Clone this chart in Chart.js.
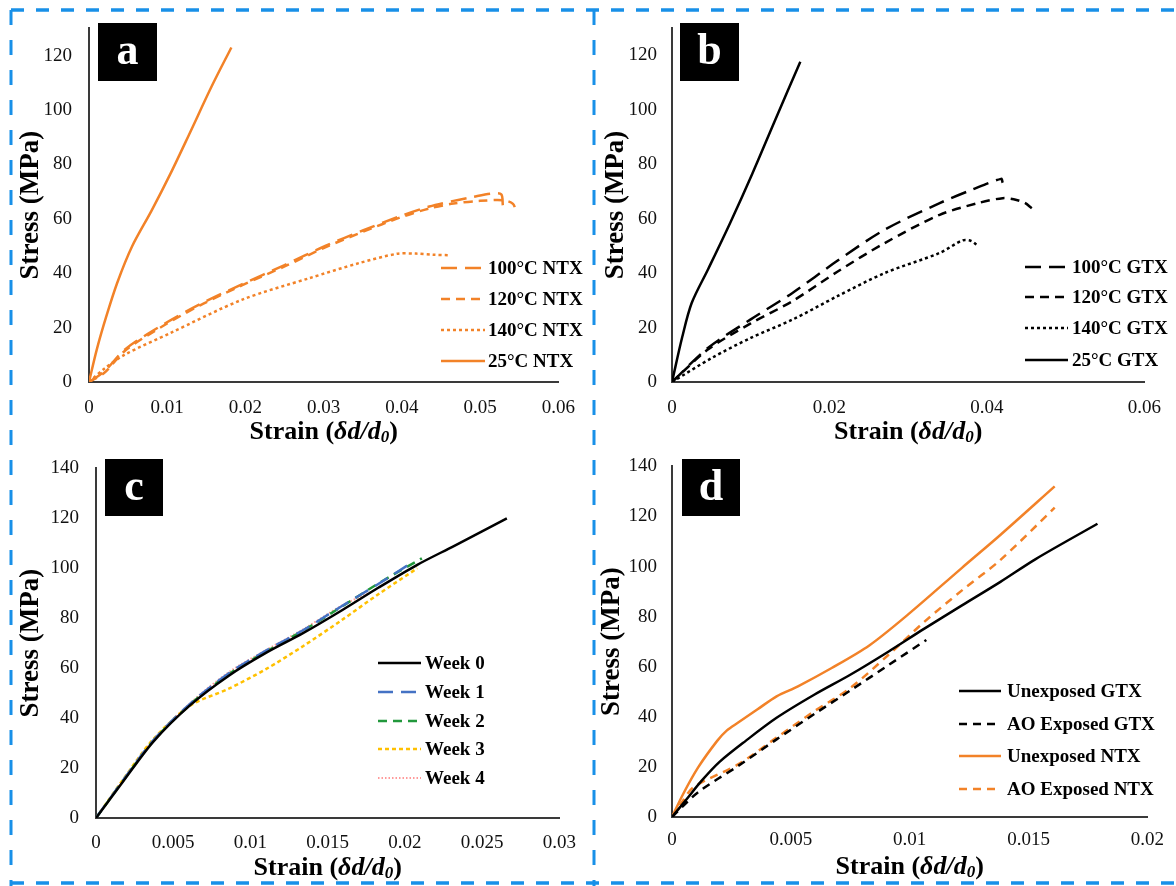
<!DOCTYPE html>
<html>
<head>
<meta charset="utf-8">
<title>Stress–strain curves</title>
<script src="https://cdn.jsdelivr.net/npm/chart.js@4.4.1/dist/chart.umd.min.js"></script>
<style>
  html, body { margin: 0; padding: 0; background: #fff; }
  #fig { position: relative; width: 1176px; height: 886px; overflow: hidden; }
  #fig canvas { position: absolute; }
</style>
</head>
<body>
<div id="fig">
  <canvas id="chartA" width="590" height="450" style="left:0;top:0"></canvas>
  <canvas id="chartB" width="586" height="450" style="left:590px;top:0"></canvas>
  <canvas id="chartC" width="590" height="446" style="left:0;top:440px"></canvas>
  <canvas id="chartD" width="586" height="446" style="left:590px;top:440px"></canvas>
  <canvas id="frame" width="1176" height="886" style="left:0;top:0"></canvas>
</div>
<script>
// ---- data: [strain, stress (MPa)] ----
// (a) NTX at different temperatures
const ntx100 = [[0,0],[0.002,4],[0.0046,12],[0.0094,21],[0.0142,28.6],[0.0196,36],[0.025,43],[0.0302,50],[0.035,55.7],[0.0398,61],[0.0435,64.5],[0.0466,66.6],[0.049,68],[0.0515,69.3],[0.0527,69],[0.0529,65]];
const ntx120 = [[0,0],[0.002,3.5],[0.0046,11.5],[0.0094,20.5],[0.0142,28.2],[0.0196,35.6],[0.025,42.5],[0.0302,49.5],[0.035,55.2],[0.0398,60.5],[0.0435,63.8],[0.0466,65.6],[0.05,66.6],[0.053,66.8],[0.0542,65.5],[0.0546,62.5]];
const ntx140 = [[0,0],[0.002,5],[0.0046,10.1],[0.0104,18],[0.0196,30.3],[0.0282,38.2],[0.0345,43.7],[0.0393,47.1],[0.0418,47.2],[0.044,46.8],[0.0461,46.6]];
const ntx25 = [[0,0],[0.001,12],[0.0022,24],[0.0036,36.4],[0.0055,49.8],[0.008,63],[0.0104,76.5],[0.0128,91],[0.0157,108.8],[0.0182,123]];

// (b) GTX at different temperatures
const gtx100 = [[0,0],[0.0046,12.6],[0.01,23],[0.0153,32.7],[0.021,44.5],[0.027,55.9],[0.034,65.7],[0.038,70.5],[0.0418,74.6],[0.042,73.2]];
const gtx120 = [[0,0],[0.0046,12],[0.01,21.5],[0.0153,29.7],[0.021,40.5],[0.027,51],[0.034,61.4],[0.039,65.8],[0.042,67.5],[0.0434,67.1],[0.0448,65.8],[0.0457,63.8]];
const gtx140 = [[0,0],[0.0051,8.9],[0.01,16.2],[0.0153,22.9],[0.021,31.5],[0.027,40],[0.034,47.4],[0.0369,52],[0.038,51.8],[0.0387,50.4]];
const gtx25 = [[0,0],[0.0013,16.5],[0.0025,29],[0.0046,41.5],[0.0074,58.5],[0.0102,76.5],[0.013,95.5],[0.0163,117.6]];

// (c) weekly exposure
const week0 = [[0,0],[0.0018,15],[0.0037,30.5],[0.0061,45.2],[0.0086,57],[0.011,66.1],[0.0134,74],[0.0159,83.1],[0.0183,92.3],[0.0208,101.4],[0.0232,109],[0.0266,120]];
const week1 = [[0,0],[0.0018,15.5],[0.0037,31],[0.0061,45.8],[0.0086,58],[0.011,67],[0.0134,75.2],[0.0159,84.8],[0.0183,93.8],[0.0205,102.5]];
const week2 = [[0,0],[0.0018,15.3],[0.0037,30.8],[0.0061,45.5],[0.0086,57.6],[0.011,66.6],[0.0134,75],[0.0159,84.6],[0.0183,94],[0.0211,104]];
const week3 = [[0,0],[0.0018,15.8],[0.0037,31.5],[0.0061,45],[0.0086,51.8],[0.011,59.6],[0.0134,68.8],[0.0159,79.2],[0.0183,89.7],[0.0208,100]];
const week4 = [[0,0],[0.0018,15.6],[0.0037,31.2],[0.0061,46],[0.0086,58.4],[0.011,67.2],[0.0134,75.5],[0.0159,85],[0.0178,90.5]];

// (d) unexposed vs AO exposed
const gtxUnexp = [[0,0],[0.00063,7.3],[0.00125,14.5],[0.002,22],[0.0031,30.4],[0.0044,39.6],[0.006,48.9],[0.0075,56.8],[0.0091,66],[0.0106,75.1],[0.0122,84.5],[0.0138,93.8],[0.0153,103],[0.0179,117.1]];
const gtxAO = [[0,0],[0.0011,9.9],[0.0028,20.5],[0.0044,31],[0.006,41.2],[0.0075,50.5],[0.0091,60.6],[0.0107,70.7]];
const ntxUnexp = [[0,0],[0.00047,9.2],[0.0011,19.8],[0.0019,30.4],[0.0023,34.5],[0.0028,37.8],[0.0036,43],[0.0044,48.2],[0.0053,52.2],[0.0067,59.4],[0.0083,68.5],[0.0099,80.6],[0.0122,99.5],[0.0138,112.5],[0.0161,132]];
const ntxAO = [[0,0],[0.00047,6.6],[0.0009,11.9],[0.0028,21.1],[0.0044,31.7],[0.006,42.3],[0.0075,51.5],[0.0091,64.7],[0.0106,77.8],[0.0122,90.5],[0.0138,102.5],[0.0161,123.5]];

// ---- ticks ----
const xTicksA = [0, 0.01, 0.02, 0.03, 0.04, 0.05, 0.06];
const xLabelsA = ['0', '0.01', '0.02', '0.03', '0.04', '0.05', '0.06'];
const xTicksB = [0, 0.02, 0.04, 0.06];
const xLabelsB = ['0', '0.02', '0.04', '0.06'];
const xTicksC = [0, 0.005, 0.01, 0.015, 0.02, 0.025, 0.03];
const xLabelsC = ['0', '0.005', '0.01', '0.015', '0.02', '0.025', '0.03'];
const xTicksD = [0, 0.005, 0.01, 0.015, 0.02];
const xLabelsD = ['0', '0.005', '0.01', '0.015', '0.02'];
const yTicks120 = [0, 20, 40, 60, 80, 100, 120];
const yTicks140 = [0, 20, 40, 60, 80, 100, 120, 140];

const ORANGE = '#f28228';
const SERIF = '"Liberation Serif", "Times New Roman", serif';

function line(label, pts, color, dash, width) {
    return {
        label: label,
        data: pts.map(p => ({ x: p[0], y: p[1] })),
        borderColor: color,
        borderDash: dash,
        borderWidth: width || 2.5,
        showLine: true,
        pointRadius: 0,
        fill: false,
        tension: 0.3
    };
}

// legend rows drawn inside the plot
const legendBox = {
    id: 'legendBox',
    afterDatasetsDraw(chart, args, o) {
        const ctx = chart.ctx;
        ctx.save();
        chart.data.datasets.forEach((ds, i) => {
            const y = o.rows[i];
            ctx.strokeStyle = ds.borderColor;
            ctx.lineWidth = ds.borderWidth;
            ctx.setLineDash(ds.borderDash || []);
            ctx.beginPath();
            ctx.moveTo(o.x1, y);
            ctx.lineTo(o.x2, y);
            ctx.stroke();
            ctx.setLineDash([]);
            ctx.fillStyle = '#000';
            ctx.font = 'bold 19px ' + SERIF;
            ctx.textAlign = 'left';
            ctx.textBaseline = 'middle';
            ctx.fillText(ds.label, o.tx, y + 1);
        });
        ctx.restore();
    }
};

// black box with the panel letter
const panelTag = {
    id: 'panelTag',
    afterDraw(chart, args, o) {
        const ctx = chart.ctx;
        ctx.save();
        ctx.fillStyle = '#000';
        ctx.fillRect(o.x, o.y, o.w, o.h);
        ctx.fillStyle = '#fff';
        ctx.font = 'bold 44px ' + SERIF;
        ctx.textAlign = 'center';
        ctx.textBaseline = 'middle';
        ctx.fillText(o.text, o.x + o.w / 2, o.y + o.h / 2 + 1);
        ctx.restore();
    }
};

// x axis title with italic symbols and subscript
const strainTitle = {
    id: 'strainTitle',
    afterDraw(chart, args, o) {
        const ctx = chart.ctx, a = chart.chartArea;
        const parts = [
            ['Strain (', 'bold 26px ' + SERIF, 0],
            ['\u03B4d/d', 'italic bold 26px ' + SERIF, 0],
            ['0', 'italic bold 17px ' + SERIF, 6],
            [')', 'bold 26px ' + SERIF, 0]
        ];
        ctx.save();
        ctx.textBaseline = 'middle';
        ctx.textAlign = 'left';
        let total = 0;
        parts.forEach(p => { ctx.font = p[1]; total += ctx.measureText(p[0]).width; });
        let x = (a.left + a.right) / 2 - total / 2;
        const y = a.bottom + o.offset;
        ctx.fillStyle = '#000';
        parts.forEach(p => {
            ctx.font = p[1];
            ctx.fillText(p[0], x, y + p[2]);
            x += ctx.measureText(p[0]).width;
        });
        ctx.restore();
    }
};

function makePanel(id, c) {
    const axisBorder = { display: true, color: '#3a3a3a', width: 2 };
    const tickFont = { family: SERIF, size: 19 };
    return new Chart(document.getElementById(id), {
        type: 'scatter',
        data: { datasets: c.series },
        options: {
            responsive: false,
            animation: false,
            layout: { padding: { left: 0, right: c.padRight, top: c.padTop, bottom: 0 } },
            plugins: {
                legend: { display: false },
                tooltip: { enabled: false },
                legendBox: c.legend,
                panelTag: c.tag,
                strainTitle: { offset: 50 }
            },
            scales: {
                x: {
                    type: 'linear',
                    min: 0,
                    max: c.xTicks[c.xTicks.length - 1],
                    grid: { display: false, drawTicks: false },
                    border: axisBorder,
                    afterBuildTicks: s => { s.ticks = c.xTicks.map(v => ({ value: v })); },
                    afterFit: s => { s.height = c.xH; },
                    ticks: {
                        padding: c.xPad,
                        color: '#111',
                        font: tickFont,
                        maxRotation: 0,
                        callback: (v, i) => c.xLabels[i]
                    }
                },
                y: {
                    type: 'linear',
                    min: 0,
                    max: c.yMax,
                    grid: { display: false, drawTicks: false },
                    border: axisBorder,
                    afterBuildTicks: s => { s.ticks = c.yTicks.map(v => ({ value: v })); },
                    afterFit: s => { s.width = c.yW; },
                    ticks: {
                        padding: c.yPad,
                        color: '#111',
                        font: tickFont,
                        callback: (v, i) => String(c.yTicks[i])
                    },
                    title: {
                        display: true,
                        text: 'Stress (MPa)',
                        color: '#000',
                        font: { family: SERIF, size: 27, weight: 'bold' },
                        padding: { top: c.yTitlePad, bottom: 0 }
                    }
                }
            }
        },
        plugins: [legendBox, panelTag, strainTitle]
    });
}

makePanel('chartA', {
    series: [
        line('100\u00B0C NTX', ntx100, ORANGE, [16, 8]),
        line('120\u00B0C NTX', ntx120, ORANGE, [9, 6]),
        line('140\u00B0C NTX', ntx140, ORANGE, [3, 3]),
        line('25\u00B0C NTX', ntx25, ORANGE, [])
    ],
    xTicks: xTicksA, xLabels: xLabelsA, yTicks: yTicks120, yMax: 130,
    padTop: 28, padRight: 25, xH: 68, yW: 89, xPad: 15, yPad: 17, yTitlePad: 15,
    legend: { x1: 441, x2: 485, tx: 488, rows: [268, 299, 330, 361] },
    tag: { x: 98, y: 23, w: 59, h: 58, text: 'a' }
});

makePanel('chartB', {
    series: [
        line('100\u00B0C GTX', gtx100, '#000', [16, 8]),
        line('120\u00B0C GTX', gtx120, '#000', [9, 6]),
        line('140\u00B0C GTX', gtx140, '#000', [3, 3]),
        line('25\u00B0C GTX', gtx25, '#000', [])
    ],
    xTicks: xTicksB, xLabels: xLabelsB, yTicks: yTicks120, yMax: 130,
    padTop: 28, padRight: 24, xH: 68, yW: 82, xPad: 15, yPad: 15, yTitlePad: 10,
    legend: { x1: 435, x2: 478, tx: 482, rows: [267, 297, 328, 360] },
    tag: { x: 90, y: 23, w: 59, h: 58, text: 'b' }
});

makePanel('chartC', {
    series: [
        line('Week 0', week0, '#000', []),
        line('Week 1', week1, '#4472c4', [15, 8]),
        line('Week 2', week2, '#22983c', [9, 6]),
        line('Week 3', week3, '#ffc000', [4, 3]),
        line('Week 4', week4, '#ff9a9a', [1.5, 2], 2)
    ],
    xTicks: xTicksC, xLabels: xLabelsC, yTicks: yTicks140, yMax: 140,
    padTop: 22, padRight: 25, xH: 68, yW: 96, xPad: 14, yPad: 17, yTitlePad: 15,
    legend: { x1: 378, x2: 421, tx: 425, rows: [223, 252, 281, 309, 338] },
    tag: { x: 105, y: 19, w: 58, h: 57, text: 'c' }
});

makePanel('chartD', {
    series: [
        line('Unexposed GTX', gtxUnexp, '#000', []),
        line('AO Exposed GTX', gtxAO, '#000', [8, 6]),
        line('Unexposed NTX', ntxUnexp, ORANGE, []),
        line('AO Exposed NTX', ntxAO, ORANGE, [8, 6])
    ],
    xTicks: xTicksD, xLabels: xLabelsD, yTicks: yTicks140, yMax: 140,
    padTop: 23, padRight: 24, xH: 69, yW: 82, xPad: 12, yPad: 15, yTitlePad: 6,
    legend: { x1: 369, x2: 411, tx: 417, rows: [251, 284, 316, 349] },
    tag: { x: 92, y: 19, w: 58, h: 57, text: 'd' }
});

// blue dashed frame around the four panels
(function drawFrame() {
    const ctx = document.getElementById('frame').getContext('2d');
    ctx.strokeStyle = '#1890e8';
    ctx.lineWidth = 3.5;
    ctx.setLineDash([13, 12]);
    ctx.beginPath();
    ctx.moveTo(11, 10); ctx.lineTo(1176, 10);
    ctx.moveTo(11, 883); ctx.lineTo(1176, 883);
    ctx.stroke();
    ctx.lineWidth = 3;
    ctx.setLineDash([15, 15]);
    ctx.beginPath();
    ctx.moveTo(11, 10); ctx.lineTo(11, 886);
    ctx.moveTo(594, 10); ctx.lineTo(594, 886);
    ctx.stroke();
})();
</script>
</body>
</html>
